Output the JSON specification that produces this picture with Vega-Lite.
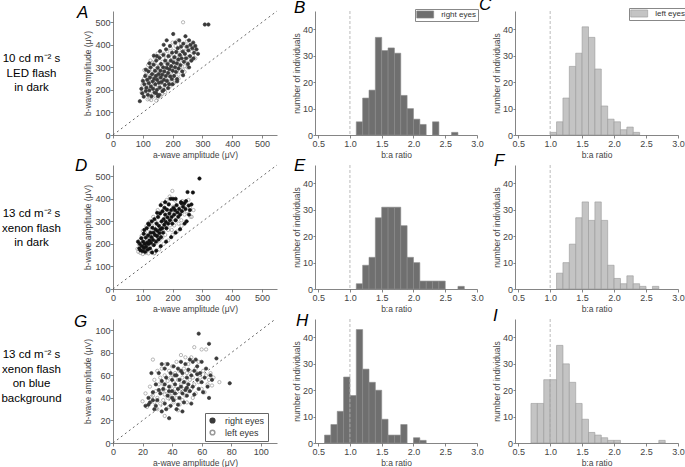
{
"$schema":"https://vega.github.io/schema/vega-lite/v6.json",
"padding":{"left":0,"top":-4,"right":0,"bottom":0},
"bounds":"flush",
"columns":4,
"spacing":{"row":30,"column":38},
"resolve":{"scale":{"fill":"independent","stroke":"independent"},"legend":{"fill":"independent","stroke":"independent"}},
"config":{
"font":"Liberation Sans",
"view":{"stroke":null},
"axis":{"grid":false,"domainColor":"#666","tickColor":"#666","labelColor":"#444","titleColor":"#444","labelFontSize":9,"titleFontSize":8.5,"titleFontWeight":"normal","tickSize":3,"labelPadding":1,"titlePadding":2,"domainWidth":0.8,"tickWidth":0.8,"labelOverlap":false,"labelFlush":false},
"title":{"fontSize":17,"fontStyle":"italic","fontWeight":"normal","anchor":"start","frame":"group","offset":0,"baseline":"alphabetic","color":"#000"}
},
"datasets":{
"sA":[
{"e":"L","a":96,"b":188},{"e":"L","a":99,"b":222},{"e":"L","a":102,"b":200},{"e":"L","a":104,"b":250},{"e":"L","a":107,"b":180},{"e":"L","a":109,"b":232},{"e":"L","a":111,"b":265},{"e":"L","a":113,"b":205},{"e":"L","a":116,"b":158},{"e":"L","a":118,"b":240},{"e":"L","a":120,"b":215},{"e":"L","a":121,"b":290},{"e":"L","a":123,"b":185},{"e":"L","a":125,"b":262},{"e":"L","a":127,"b":228},{"e":"L","a":128,"b":155},{"e":"L","a":130,"b":248},{"e":"L","a":132,"b":290},{"e":"L","a":134,"b":212},{"e":"L","a":135,"b":268},{"e":"L","a":137,"b":232},{"e":"L","a":139,"b":320},{"e":"L","a":140,"b":195},{"e":"L","a":142,"b":275},{"e":"L","a":143,"b":248},{"e":"L","a":145,"b":152},{"e":"L","a":146,"b":305},{"e":"L","a":148,"b":222},{"e":"L","a":149,"b":262},{"e":"L","a":151,"b":338},{"e":"L","a":152,"b":240},{"e":"L","a":154,"b":285},{"e":"L","a":155,"b":210},{"e":"L","a":157,"b":310},{"e":"L","a":158,"b":258},{"e":"L","a":160,"b":232},{"e":"L","a":161,"b":350},{"e":"L","a":163,"b":280},{"e":"L","a":164,"b":218},{"e":"L","a":166,"b":325},{"e":"L","a":167,"b":252},{"e":"L","a":169,"b":290},{"e":"L","a":170,"b":360},{"e":"L","a":172,"b":235},{"e":"L","a":173,"b":310},{"e":"L","a":175,"b":270},{"e":"L","a":176,"b":205},{"e":"L","a":178,"b":340},{"e":"L","a":179,"b":288},{"e":"L","a":181,"b":258},{"e":"L","a":182,"b":372},{"e":"L","a":184,"b":320},{"e":"L","a":185,"b":238},{"e":"L","a":187,"b":300},{"e":"L","a":188,"b":352},{"e":"L","a":190,"b":270},{"e":"L","a":191,"b":228},{"e":"L","a":193,"b":385},{"e":"L","a":194,"b":318},{"e":"L","a":196,"b":290},{"e":"L","a":197,"b":345},{"e":"L","a":199,"b":255},{"e":"L","a":200,"b":410},{"e":"L","a":202,"b":305},{"e":"L","a":204,"b":372},{"e":"L","a":205,"b":275},{"e":"L","a":207,"b":338},{"e":"L","a":208,"b":240},{"e":"L","a":210,"b":395},{"e":"L","a":212,"b":312},{"e":"L","a":213,"b":355},{"e":"L","a":215,"b":285},{"e":"L","a":217,"b":420},{"e":"L","a":219,"b":330},{"e":"L","a":220,"b":268},{"e":"L","a":222,"b":375},{"e":"L","a":224,"b":300},{"e":"L","a":226,"b":345},{"e":"L","a":228,"b":405},{"e":"L","a":230,"b":318},{"e":"L","a":232,"b":360},{"e":"L","a":234,"b":290},{"e":"L","a":235,"b":500},{"e":"L","a":237,"b":385},{"e":"L","a":239,"b":335},{"e":"L","a":241,"b":305},{"e":"L","a":243,"b":370},{"e":"L","a":246,"b":348},{"e":"L","a":248,"b":415},{"e":"L","a":250,"b":320},{"e":"L","a":253,"b":380},{"e":"L","a":256,"b":345},{"e":"L","a":259,"b":398},{"e":"L","a":262,"b":330},{"e":"L","a":265,"b":370},{"e":"L","a":268,"b":350},{"e":"L","a":272,"b":385},{"e":"L","a":276,"b":340},{"e":"L","a":105,"b":288},{"e":"L","a":118,"b":310},{"e":"L","a":126,"b":330},{"e":"L","a":140,"b":345},{"e":"L","a":150,"b":362},{"e":"L","a":132,"b":322},{"e":"L","a":112,"b":275},{"e":"L","a":150,"b":165},{"e":"L","a":165,"b":182},{"e":"L","a":175,"b":190},{"e":"L","a":190,"b":215},{"e":"L","a":205,"b":232},{"e":"L","a":220,"b":250},{"e":"L","a":240,"b":280},{"e":"L","a":250,"b":300},{"e":"L","a":160,"b":175},{"e":"L","a":135,"b":170},{"e":"L","a":122,"b":160},
{"e":"R","a":90,"b":150},{"e":"R","a":95,"b":205},{"e":"R","a":98,"b":185},{"e":"R","a":100,"b":240},{"e":"R","a":103,"b":170},{"e":"R","a":105,"b":225},{"e":"R","a":108,"b":262},{"e":"R","a":110,"b":195},{"e":"R","a":112,"b":210},{"e":"R","a":115,"b":245},{"e":"R","a":117,"b":178},{"e":"R","a":119,"b":282},{"e":"R","a":120,"b":230},{"e":"R","a":122,"b":198},{"e":"R","a":124,"b":255},{"e":"R","a":126,"b":300},{"e":"R","a":127,"b":215},{"e":"R","a":129,"b":172},{"e":"R","a":131,"b":270},{"e":"R","a":133,"b":238},{"e":"R","a":134,"b":205},{"e":"R","a":136,"b":312},{"e":"R","a":138,"b":250},{"e":"R","a":139,"b":188},{"e":"R","a":141,"b":285},{"e":"R","a":142,"b":225},{"e":"R","a":144,"b":262},{"e":"R","a":145,"b":330},{"e":"R","a":147,"b":200},{"e":"R","a":148,"b":245},{"e":"R","a":150,"b":298},{"e":"R","a":151,"b":172},{"e":"R","a":153,"b":270},{"e":"R","a":154,"b":232},{"e":"R","a":156,"b":342},{"e":"R","a":157,"b":210},{"e":"R","a":159,"b":285},{"e":"R","a":160,"b":255},{"e":"R","a":161,"b":315},{"e":"R","a":163,"b":235},{"e":"R","a":165,"b":268},{"e":"R","a":166,"b":195},{"e":"R","a":168,"b":300},{"e":"R","a":169,"b":355},{"e":"R","a":171,"b":245},{"e":"R","a":172,"b":282},{"e":"R","a":174,"b":222},{"e":"R","a":175,"b":330},{"e":"R","a":177,"b":262},{"e":"R","a":178,"b":380},{"e":"R","a":180,"b":298},{"e":"R","a":181,"b":240},{"e":"R","a":183,"b":315},{"e":"R","a":185,"b":275},{"e":"R","a":186,"b":350},{"e":"R","a":188,"b":225},{"e":"R","a":189,"b":292},{"e":"R","a":191,"b":395},{"e":"R","a":192,"b":260},{"e":"R","a":194,"b":330},{"e":"R","a":195,"b":305},{"e":"R","a":197,"b":248},{"e":"R","a":198,"b":365},{"e":"R","a":200,"b":285},{"e":"R","a":202,"b":448},{"e":"R","a":203,"b":322},{"e":"R","a":205,"b":262},{"e":"R","a":206,"b":345},{"e":"R","a":208,"b":300},{"e":"R","a":209,"b":410},{"e":"R","a":211,"b":280},{"e":"R","a":212,"b":368},{"e":"R","a":214,"b":318},{"e":"R","a":215,"b":248},{"e":"R","a":217,"b":385},{"e":"R","a":219,"b":335},{"e":"R","a":220,"b":295},{"e":"R","a":222,"b":420},{"e":"R","a":224,"b":355},{"e":"R","a":226,"b":310},{"e":"R","a":228,"b":392},{"e":"R","a":230,"b":340},{"e":"R","a":232,"b":282},{"e":"R","a":234,"b":370},{"e":"R","a":236,"b":405},{"e":"R","a":238,"b":325},{"e":"R","a":241,"b":360},{"e":"R","a":243,"b":438},{"e":"R","a":245,"b":340},{"e":"R","a":248,"b":392},{"e":"R","a":251,"b":315},{"e":"R","a":253,"b":375},{"e":"R","a":255,"b":420},{"e":"R","a":258,"b":350},{"e":"R","a":260,"b":400},{"e":"R","a":263,"b":330},{"e":"R","a":266,"b":385},{"e":"R","a":269,"b":410},{"e":"R","a":272,"b":365},{"e":"R","a":276,"b":395},{"e":"R","a":280,"b":380},{"e":"R","a":285,"b":360},{"e":"R","a":308,"b":490},{"e":"R","a":320,"b":490},{"e":"R","a":110,"b":290},{"e":"R","a":122,"b":318},{"e":"R","a":137,"b":352},{"e":"R","a":147,"b":350},{"e":"R","a":158,"b":372},{"e":"R","a":170,"b":400},{"e":"R","a":180,"b":420},{"e":"R","a":155,"b":178},{"e":"R","a":170,"b":200},{"e":"R","a":185,"b":208},{"e":"R","a":200,"b":225},{"e":"R","a":215,"b":238},{"e":"R","a":235,"b":265},{"e":"R","a":255,"b":300},{"e":"R","a":270,"b":340},{"e":"R","a":145,"b":185}
],
"sD":[
{"e":"L","a":82,"b":178},{"e":"L","a":85,"b":165},{"e":"L","a":87,"b":198},{"e":"L","a":90,"b":215},{"e":"L","a":92,"b":160},{"e":"L","a":94,"b":182},{"e":"L","a":96,"b":235},{"e":"L","a":98,"b":200},{"e":"L","a":100,"b":155},{"e":"L","a":102,"b":175},{"e":"L","a":104,"b":222},{"e":"L","a":106,"b":190},{"e":"L","a":107,"b":250},{"e":"L","a":109,"b":160},{"e":"L","a":111,"b":208},{"e":"L","a":113,"b":180},{"e":"L","a":115,"b":235},{"e":"L","a":117,"b":198},{"e":"L","a":119,"b":158},{"e":"L","a":120,"b":265},{"e":"L","a":122,"b":222},{"e":"L","a":124,"b":188},{"e":"L","a":126,"b":245},{"e":"L","a":128,"b":170},{"e":"L","a":130,"b":212},{"e":"L","a":131,"b":282},{"e":"L","a":133,"b":238},{"e":"L","a":135,"b":195},{"e":"L","a":137,"b":260},{"e":"L","a":138,"b":158},{"e":"L","a":140,"b":225},{"e":"L","a":142,"b":300},{"e":"L","a":144,"b":248},{"e":"L","a":146,"b":205},{"e":"L","a":148,"b":275},{"e":"L","a":150,"b":232},{"e":"L","a":152,"b":318},{"e":"L","a":154,"b":258},{"e":"L","a":156,"b":215},{"e":"L","a":157,"b":290},{"e":"L","a":159,"b":245},{"e":"L","a":161,"b":340},{"e":"L","a":163,"b":268},{"e":"L","a":165,"b":228},{"e":"L","a":167,"b":305},{"e":"L","a":169,"b":255},{"e":"L","a":171,"b":360},{"e":"L","a":173,"b":285},{"e":"L","a":175,"b":240},{"e":"L","a":177,"b":325},{"e":"L","a":179,"b":270},{"e":"L","a":181,"b":350},{"e":"L","a":183,"b":300},{"e":"L","a":185,"b":262},{"e":"L","a":187,"b":378},{"e":"L","a":189,"b":318},{"e":"L","a":191,"b":282},{"e":"L","a":193,"b":345},{"e":"L","a":195,"b":300},{"e":"L","a":197,"b":262},{"e":"L","a":199,"b":435},{"e":"L","a":201,"b":365},{"e":"L","a":203,"b":315},{"e":"L","a":205,"b":282},{"e":"L","a":207,"b":340},{"e":"L","a":209,"b":392},{"e":"L","a":211,"b":305},{"e":"L","a":214,"b":358},{"e":"L","a":217,"b":330},{"e":"L","a":220,"b":290},{"e":"L","a":223,"b":372},{"e":"L","a":226,"b":340},{"e":"L","a":229,"b":305},{"e":"L","a":232,"b":390},{"e":"L","a":236,"b":350},{"e":"L","a":240,"b":330},{"e":"L","a":244,"b":375},{"e":"L","a":248,"b":345},{"e":"L","a":253,"b":395},{"e":"L","a":258,"b":360},{"e":"L","a":264,"b":320},{"e":"L","a":270,"b":350},{"e":"L","a":100,"b":258},{"e":"L","a":112,"b":278},{"e":"L","a":125,"b":300},{"e":"L","a":135,"b":320},{"e":"L","a":150,"b":350},{"e":"L","a":165,"b":380},{"e":"L","a":180,"b":395},{"e":"L","a":190,"b":410},{"e":"L","a":140,"b":160},{"e":"L","a":155,"b":175},{"e":"L","a":170,"b":200},{"e":"L","a":185,"b":215},{"e":"L","a":200,"b":240},{"e":"L","a":215,"b":255},{"e":"L","a":230,"b":280},{"e":"L","a":245,"b":300},{"e":"L","a":260,"b":320},
{"e":"R","a":84,"b":210},{"e":"R","a":88,"b":180},{"e":"R","a":90,"b":200},{"e":"R","a":92,"b":172},{"e":"R","a":95,"b":225},{"e":"R","a":97,"b":190},{"e":"R","a":99,"b":168},{"e":"R","a":101,"b":210},{"e":"R","a":103,"b":245},{"e":"R","a":104,"b":182},{"e":"R","a":106,"b":200},{"e":"R","a":108,"b":165},{"e":"R","a":110,"b":228},{"e":"R","a":111,"b":188},{"e":"R","a":113,"b":270},{"e":"R","a":114,"b":205},{"e":"R","a":116,"b":175},{"e":"R","a":118,"b":238},{"e":"R","a":119,"b":200},{"e":"R","a":121,"b":285},{"e":"R","a":122,"b":215},{"e":"R","a":124,"b":180},{"e":"R","a":126,"b":250},{"e":"R","a":127,"b":205},{"e":"R","a":129,"b":230},{"e":"R","a":131,"b":162},{"e":"R","a":132,"b":272},{"e":"R","a":134,"b":218},{"e":"R","a":136,"b":250},{"e":"R","a":137,"b":195},{"e":"R","a":139,"b":310},{"e":"R","a":141,"b":240},{"e":"R","a":142,"b":265},{"e":"R","a":144,"b":210},{"e":"R","a":146,"b":290},{"e":"R","a":148,"b":235},{"e":"R","a":149,"b":258},{"e":"R","a":151,"b":320},{"e":"R","a":153,"b":220},{"e":"R","a":154,"b":280},{"e":"R","a":156,"b":248},{"e":"R","a":158,"b":335},{"e":"R","a":159,"b":265},{"e":"R","a":161,"b":230},{"e":"R","a":163,"b":300},{"e":"R","a":165,"b":270},{"e":"R","a":166,"b":345},{"e":"R","a":168,"b":250},{"e":"R","a":170,"b":310},{"e":"R","a":172,"b":285},{"e":"R","a":173,"b":360},{"e":"R","a":175,"b":330},{"e":"R","a":177,"b":298},{"e":"R","a":179,"b":270},{"e":"R","a":181,"b":352},{"e":"R","a":183,"b":318},{"e":"R","a":185,"b":290},{"e":"R","a":187,"b":375},{"e":"R","a":189,"b":335},{"e":"R","a":191,"b":305},{"e":"R","a":193,"b":400},{"e":"R","a":195,"b":350},{"e":"R","a":197,"b":320},{"e":"R","a":199,"b":290},{"e":"R","a":201,"b":400},{"e":"R","a":203,"b":360},{"e":"R","a":205,"b":330},{"e":"R","a":208,"b":350},{"e":"R","a":210,"b":305},{"e":"R","a":213,"b":372},{"e":"R","a":216,"b":340},{"e":"R","a":219,"b":320},{"e":"R","a":222,"b":355},{"e":"R","a":225,"b":330},{"e":"R","a":228,"b":385},{"e":"R","a":231,"b":345},{"e":"R","a":235,"b":365},{"e":"R","a":239,"b":380},{"e":"R","a":243,"b":355},{"e":"R","a":247,"b":300},{"e":"R","a":250,"b":430},{"e":"R","a":254,"b":370},{"e":"R","a":258,"b":350},{"e":"R","a":263,"b":375},{"e":"R","a":268,"b":428},{"e":"R","a":290,"b":490},{"e":"R","a":245,"b":390},{"e":"R","a":105,"b":262},{"e":"R","a":118,"b":290},{"e":"R","a":130,"b":300},{"e":"R","a":148,"b":338},{"e":"R","a":160,"b":372},{"e":"R","a":175,"b":385},{"e":"R","a":210,"b":400},{"e":"R","a":230,"b":380},{"e":"R","a":145,"b":170},{"e":"R","a":160,"b":190},{"e":"R","a":178,"b":210},{"e":"R","a":195,"b":230},{"e":"R","a":210,"b":250},{"e":"R","a":225,"b":265},{"e":"R","a":240,"b":290},{"e":"R","a":255,"b":330}
],
"sG":[
{"e":"L","a":20,"b":37},{"e":"L","a":22,"b":44},{"e":"L","a":23,"b":32},{"e":"L","a":25,"b":50},{"e":"L","a":26,"b":41},{"e":"L","a":27,"b":74},{"e":"L","a":28,"b":36},{"e":"L","a":28,"b":56},{"e":"L","a":29,"b":46},{"e":"L","a":30,"b":40},{"e":"L","a":30,"b":64},{"e":"L","a":31,"b":52},{"e":"L","a":32,"b":35},{"e":"L","a":32,"b":58},{"e":"L","a":33,"b":45},{"e":"L","a":33,"b":66},{"e":"L","a":34,"b":38},{"e":"L","a":34,"b":52},{"e":"L","a":35,"b":24},{"e":"L","a":35,"b":60},{"e":"L","a":36,"b":46},{"e":"L","a":36,"b":70},{"e":"L","a":37,"b":40},{"e":"L","a":37,"b":55},{"e":"L","a":38,"b":64},{"e":"L","a":38,"b":32},{"e":"L","a":39,"b":50},{"e":"L","a":39,"b":58},{"e":"L","a":40,"b":44},{"e":"L","a":40,"b":68},{"e":"L","a":41,"b":54},{"e":"L","a":41,"b":36},{"e":"L","a":42,"b":62},{"e":"L","a":42,"b":48},{"e":"L","a":43,"b":72},{"e":"L","a":43,"b":40},{"e":"L","a":44,"b":56},{"e":"L","a":44,"b":29},{"e":"L","a":45,"b":64},{"e":"L","a":45,"b":46},{"e":"L","a":46,"b":52},{"e":"L","a":46,"b":78},{"e":"L","a":47,"b":58},{"e":"L","a":47,"b":38},{"e":"L","a":48,"b":66},{"e":"L","a":48,"b":48},{"e":"L","a":49,"b":54},{"e":"L","a":49,"b":76},{"e":"L","a":50,"b":62},{"e":"L","a":50,"b":36},{"e":"L","a":51,"b":46},{"e":"L","a":51,"b":70},{"e":"L","a":52,"b":56},{"e":"L","a":52,"b":64},{"e":"L","a":53,"b":48},{"e":"L","a":53,"b":76},{"e":"L","a":54,"b":58},{"e":"L","a":55,"b":85},{"e":"L","a":55,"b":52},{"e":"L","a":56,"b":66},{"e":"L","a":56,"b":44},{"e":"L","a":57,"b":62},{"e":"L","a":58,"b":72},{"e":"L","a":58,"b":54},{"e":"L","a":59,"b":58},{"e":"L","a":60,"b":83},{"e":"L","a":60,"b":48},{"e":"L","a":61,"b":64},{"e":"L","a":62,"b":45},{"e":"L","a":63,"b":83},{"e":"L","a":63,"b":60},{"e":"L","a":64,"b":52},{"e":"L","a":65,"b":56},{"e":"L","a":66,"b":62},{"e":"L","a":67,"b":51},{"e":"L","a":68,"b":58},{"e":"L","a":72,"b":54},{"e":"L","a":45,"b":34},{"e":"L","a":38,"b":42},{"e":"L","a":41,"b":60},{"e":"L","a":30,"b":30},{"e":"L","a":27,"b":42},{"e":"L","a":49,"b":42},{"e":"L","a":54,"b":40},{"e":"L","a":35,"b":43},
{"e":"R","a":22,"b":33},{"e":"R","a":24,"b":40},{"e":"R","a":25,"b":36},{"e":"R","a":27,"b":45},{"e":"R","a":28,"b":30},{"e":"R","a":29,"b":52},{"e":"R","a":30,"b":38},{"e":"R","a":31,"b":62},{"e":"R","a":32,"b":44},{"e":"R","a":33,"b":28},{"e":"R","a":33,"b":55},{"e":"R","a":34,"b":48},{"e":"R","a":35,"b":66},{"e":"R","a":35,"b":35},{"e":"R","a":36,"b":58},{"e":"R","a":37,"b":42},{"e":"R","a":37,"b":70},{"e":"R","a":38,"b":22},{"e":"R","a":38,"b":50},{"e":"R","a":39,"b":62},{"e":"R","a":39,"b":33},{"e":"R","a":40,"b":46},{"e":"R","a":40,"b":56},{"e":"R","a":41,"b":38},{"e":"R","a":41,"b":68},{"e":"R","a":42,"b":52},{"e":"R","a":42,"b":44},{"e":"R","a":43,"b":60},{"e":"R","a":43,"b":30},{"e":"R","a":44,"b":48},{"e":"R","a":44,"b":66},{"e":"R","a":45,"b":40},{"e":"R","a":45,"b":56},{"e":"R","a":46,"b":72},{"e":"R","a":46,"b":50},{"e":"R","a":47,"b":44},{"e":"R","a":47,"b":62},{"e":"R","a":48,"b":36},{"e":"R","a":48,"b":54},{"e":"R","a":49,"b":70},{"e":"R","a":49,"b":47},{"e":"R","a":50,"b":58},{"e":"R","a":50,"b":42},{"e":"R","a":51,"b":65},{"e":"R","a":51,"b":52},{"e":"R","a":52,"b":74},{"e":"R","a":52,"b":46},{"e":"R","a":53,"b":60},{"e":"R","a":54,"b":72},{"e":"R","a":54,"b":50},{"e":"R","a":55,"b":64},{"e":"R","a":55,"b":43},{"e":"R","a":56,"b":74},{"e":"R","a":57,"b":56},{"e":"R","a":57,"b":68},{"e":"R","a":58,"b":97},{"e":"R","a":58,"b":48},{"e":"R","a":59,"b":62},{"e":"R","a":60,"b":72},{"e":"R","a":60,"b":54},{"e":"R","a":61,"b":45},{"e":"R","a":62,"b":58},{"e":"R","a":63,"b":66},{"e":"R","a":64,"b":50},{"e":"R","a":65,"b":88},{"e":"R","a":65,"b":40},{"e":"R","a":66,"b":60},{"e":"R","a":67,"b":56},{"e":"R","a":70,"b":75},{"e":"R","a":79,"b":53},{"e":"R","a":33,"b":70},{"e":"R","a":26,"b":62},{"e":"R","a":29,"b":33},{"e":"R","a":36,"b":30},{"e":"R","a":44,"b":34},{"e":"R","a":47,"b":28},{"e":"R","a":53,"b":35},{"e":"R","a":31,"b":47},{"e":"R","a":27,"b":38},{"e":"R","a":24,"b":34},{"e":"R","a":46,"b":64},{"e":"R","a":42,"b":60},{"e":"R","a":38,"b":46},{"e":"R","a":50,"b":49},{"e":"R","a":35,"b":52},{"e":"R","a":40,"b":40},{"e":"R","a":57,"b":61}
],
"hB":[{"x0":1.1,"x1":1.2,"n":5,"eye":"right eyes"},{"x0":1.2,"x1":1.3,"n":14,"eye":"right eyes"},{"x0":1.3,"x1":1.4,"n":17,"eye":"right eyes"},{"x0":1.4,"x1":1.5,"n":37,"eye":"right eyes"},{"x0":1.5,"x1":1.6,"n":32,"eye":"right eyes"},{"x0":1.6,"x1":1.7,"n":33,"eye":"right eyes"},{"x0":1.7,"x1":1.8,"n":31,"eye":"right eyes"},{"x0":1.8,"x1":1.9,"n":15,"eye":"right eyes"},{"x0":1.9,"x1":2.0,"n":10,"eye":"right eyes"},{"x0":2.0,"x1":2.1,"n":6,"eye":"right eyes"},{"x0":2.1,"x1":2.2,"n":4,"eye":"right eyes"},{"x0":2.3,"x1":2.4,"n":5,"eye":"right eyes"},{"x0":2.6,"x1":2.7,"n":1,"eye":"right eyes"}],
"hC":[{"x0":1.0,"x1":1.1,"n":1,"eye":"left eyes"},{"x0":1.1,"x1":1.2,"n":5,"eye":"left eyes"},{"x0":1.2,"x1":1.3,"n":14,"eye":"left eyes"},{"x0":1.3,"x1":1.4,"n":26,"eye":"left eyes"},{"x0":1.4,"x1":1.5,"n":31,"eye":"left eyes"},{"x0":1.5,"x1":1.6,"n":41,"eye":"left eyes"},{"x0":1.6,"x1":1.7,"n":37,"eye":"left eyes"},{"x0":1.7,"x1":1.8,"n":25,"eye":"left eyes"},{"x0":1.8,"x1":1.9,"n":11,"eye":"left eyes"},{"x0":1.9,"x1":2.0,"n":6,"eye":"left eyes"},{"x0":2.0,"x1":2.1,"n":5,"eye":"left eyes"},{"x0":2.1,"x1":2.2,"n":2,"eye":"left eyes"},{"x0":2.2,"x1":2.3,"n":3,"eye":"left eyes"},{"x0":2.3,"x1":2.4,"n":1,"eye":"left eyes"}],
"hE":[{"x0":1.1,"x1":1.2,"n":2,"eye":"right eyes"},{"x0":1.2,"x1":1.3,"n":9,"eye":"right eyes"},{"x0":1.3,"x1":1.4,"n":12,"eye":"right eyes"},{"x0":1.4,"x1":1.5,"n":27,"eye":"right eyes"},{"x0":1.5,"x1":1.6,"n":31,"eye":"right eyes"},{"x0":1.6,"x1":1.7,"n":31,"eye":"right eyes"},{"x0":1.7,"x1":1.8,"n":31,"eye":"right eyes"},{"x0":1.8,"x1":1.9,"n":24,"eye":"right eyes"},{"x0":1.9,"x1":2.0,"n":12,"eye":"right eyes"},{"x0":2.0,"x1":2.1,"n":10,"eye":"right eyes"},{"x0":2.1,"x1":2.2,"n":3,"eye":"right eyes"},{"x0":2.2,"x1":2.3,"n":3,"eye":"right eyes"},{"x0":2.3,"x1":2.4,"n":3,"eye":"right eyes"},{"x0":2.4,"x1":2.5,"n":3,"eye":"right eyes"},{"x0":2.7,"x1":2.8,"n":1,"eye":"right eyes"}],
"hF":[{"x0":1.1,"x1":1.2,"n":6,"eye":"left eyes"},{"x0":1.2,"x1":1.3,"n":10,"eye":"left eyes"},{"x0":1.3,"x1":1.4,"n":17,"eye":"left eyes"},{"x0":1.4,"x1":1.5,"n":27,"eye":"left eyes"},{"x0":1.5,"x1":1.6,"n":33,"eye":"left eyes"},{"x0":1.6,"x1":1.7,"n":26,"eye":"left eyes"},{"x0":1.7,"x1":1.8,"n":33,"eye":"left eyes"},{"x0":1.8,"x1":1.9,"n":26,"eye":"left eyes"},{"x0":1.9,"x1":2.0,"n":9,"eye":"left eyes"},{"x0":2.0,"x1":2.1,"n":4,"eye":"left eyes"},{"x0":2.1,"x1":2.2,"n":2,"eye":"left eyes"},{"x0":2.2,"x1":2.3,"n":5,"eye":"left eyes"},{"x0":2.3,"x1":2.4,"n":2,"eye":"left eyes"},{"x0":2.4,"x1":2.5,"n":1,"eye":"left eyes"},{"x0":2.6,"x1":2.7,"n":1,"eye":"left eyes"}],
"hH":[{"x0":0.6,"x1":0.7,"n":3,"eye":"right eyes"},{"x0":0.7,"x1":0.8,"n":7,"eye":"right eyes"},{"x0":0.8,"x1":0.9,"n":12,"eye":"right eyes"},{"x0":0.9,"x1":1.0,"n":25,"eye":"right eyes"},{"x0":1.0,"x1":1.1,"n":18,"eye":"right eyes"},{"x0":1.1,"x1":1.2,"n":43,"eye":"right eyes"},{"x0":1.2,"x1":1.3,"n":28,"eye":"right eyes"},{"x0":1.3,"x1":1.4,"n":23,"eye":"right eyes"},{"x0":1.4,"x1":1.5,"n":20,"eye":"right eyes"},{"x0":1.5,"x1":1.6,"n":9,"eye":"right eyes"},{"x0":1.6,"x1":1.7,"n":3,"eye":"right eyes"},{"x0":1.7,"x1":1.8,"n":3,"eye":"right eyes"},{"x0":1.8,"x1":1.9,"n":7,"eye":"right eyes"},{"x0":2.0,"x1":2.1,"n":2,"eye":"right eyes"},{"x0":2.1,"x1":2.2,"n":1,"eye":"right eyes"}],
"hI":[{"x0":0.7,"x1":0.8,"n":15,"eye":"left eyes"},{"x0":0.8,"x1":0.9,"n":15,"eye":"left eyes"},{"x0":0.9,"x1":1.0,"n":24,"eye":"left eyes"},{"x0":1.0,"x1":1.1,"n":24,"eye":"left eyes"},{"x0":1.1,"x1":1.2,"n":37,"eye":"left eyes"},{"x0":1.2,"x1":1.3,"n":30,"eye":"left eyes"},{"x0":1.3,"x1":1.4,"n":23,"eye":"left eyes"},{"x0":1.4,"x1":1.5,"n":15,"eye":"left eyes"},{"x0":1.5,"x1":1.6,"n":9,"eye":"left eyes"},{"x0":1.6,"x1":1.7,"n":4,"eye":"left eyes"},{"x0":1.7,"x1":1.8,"n":3,"eye":"left eyes"},{"x0":1.8,"x1":1.9,"n":2,"eye":"left eyes"},{"x0":1.9,"x1":2.0,"n":1,"eye":"left eyes"},{"x0":2.0,"x1":2.1,"n":1,"eye":"left eyes"},{"x0":2.7,"x1":2.8,"n":1,"eye":"left eyes"}]
},
"concat":[
{"width":75,"height":124,"data":{"values":[{"t":"10 cd m⁻² s\nLED flash\nin dark"}]},"mark":{"type":"text","align":"center","baseline":"middle","dx":-6,"dy":-14,"fontSize":11.5,"lineBreak":"\n","lineHeight":14.5,"color":"#000"},"encoding":{"text":{"field":"t"}}},
{"width":164,"height":124,"title":{"text":"A","dx":-36,"dy":16.5},
"layer":[
{"data":{"values":[{"a":0,"b":0},{"a":550,"b":550}]},"mark":{"type":"line","strokeDash":[2,3],"color":"#555","strokeWidth":0.9},"encoding":{"x":{"field":"a","type":"quantitative","title":"a-wave amplitude (μV)","scale":{"domain":[0,550],"nice":false},"axis":{"values":[0,100,200,300,400,500],"labelOverlap":false,"tickCount":6}},"y":{"field":"b","type":"quantitative","title":"b-wave amplitude (μV)","scale":{"domain":[0,550],"nice":false},"axis":{"values":[0,100,200,300,400,500],"labelPadding":0,"labelOverlap":false,"tickCount":6}}}},
{"data":{"name":"sA"},"mark":{"type":"point","shape":"circle","size":11,"strokeWidth":0.7,"opacity":1},
"encoding":{"x":{"field":"a","type":"quantitative","title":"a-wave amplitude (μV)","scale":{"domain":[0,550],"nice":false},"axis":{"values":[0,100,200,300,400,500],"labelOverlap":false,"tickCount":6}},
"y":{"field":"b","type":"quantitative","title":"b-wave amplitude (μV)","scale":{"domain":[0,550],"nice":false},"axis":{"values":[0,100,200,300,400,500],"labelPadding":0,"labelOverlap":false,"tickCount":6}},
"fill":{"field":"e","type":"nominal","scale":{"domain":["R","L"],"range":["#3a3a3a","rgba(255,255,255,0)"]},"legend":null},
"stroke":{"field":"e","type":"nominal","scale":{"domain":["R","L"],"range":["#3a3a3a","#999999"]},"legend":null}}}
]},
{"width":162,"height":124,"title":{"text":"B","dx":-21,"dy":12},
"layer":[
{"data":{"name":"hB"},"mark":{"type":"bar","stroke":"#8a8a8a","strokeWidth":0.6},
"encoding":{"x":{"field":"x0","type":"quantitative","title":"b:a ratio","scale":{"domain":[0.45,3.0],"nice":false,"zero":false},"axis":{"values":[0.5,1,1.5,2,2.5,3],"format":".1f","labelOverlap":false,"tickCount":6}},"x2":{"field":"x1"},
"y":{"field":"n","type":"quantitative","title":"number of individuals","scale":{"domain":[0,47],"nice":false},"axis":{"values":[0,10,20,30,40],"tickSize":2,"labelPadding":0.5,"titlePadding":1,"labelOverlap":false}},"y2":{"datum":0},
"fill":{"field":"eye","type":"nominal","scale":{"range":["#6f6f6f"]},"legend":{"orient":"none","legendX":100,"legendY":-2,"title":null,"symbolType":"M-2.4,-1H2.4V1H-2.4Z","symbolSize":50,"symbolOffset":4.7,"symbolStrokeColor":"#888","symbolStrokeWidth":0.6,"strokeColor":"#888","padding":1.5,"labelFontSize":8,"labelColor":"#333","fillColor":"white","labelOffset":12}}}},
{"data":{"values":[{"r":1}]},"mark":{"type":"rule","strokeDash":[3,2],"color":"#aaa","strokeWidth":0.8},"encoding":{"x":{"field":"r","type":"quantitative","title":"b:a ratio","scale":{"domain":[0.45,3.0],"nice":false,"zero":false},"axis":{"values":[0.5,1,1.5,2,2.5,3],"format":".1f","labelOverlap":false,"tickCount":6}}}}
]},
{"width":163,"height":124,"title":{"text":"C","dx":-36,"dy":10.5},
"layer":[
{"data":{"name":"hC"},"mark":{"type":"bar","stroke":"#999999","strokeWidth":0.6},
"encoding":{"x":{"field":"x0","type":"quantitative","title":"b:a ratio","scale":{"domain":[0.45,3.0],"nice":false,"zero":false},"axis":{"values":[0.5,1,1.5,2,2.5,3],"format":".1f","labelOverlap":false,"tickCount":6}},"x2":{"field":"x1"},
"y":{"field":"n","type":"quantitative","title":"number of individuals","scale":{"domain":[0,47],"nice":false},"axis":{"values":[0,10,20,30,40],"tickSize":2,"labelPadding":0.5,"titlePadding":1,"labelOverlap":false}},"y2":{"datum":0},
"fill":{"field":"eye","type":"nominal","scale":{"range":["#c4c4c4"]},"legend":{"orient":"none","legendX":114,"legendY":-3,"title":null,"symbolType":"M-2.4,-1H2.4V1H-2.4Z","symbolSize":50,"symbolOffset":4.7,"symbolStrokeColor":"#999","symbolStrokeWidth":0.6,"strokeColor":"#888","padding":1.5,"labelFontSize":8,"labelColor":"#333","fillColor":"white","labelOffset":12}}}},
{"data":{"values":[{"r":1}]},"mark":{"type":"rule","strokeDash":[3,2],"color":"#aaa","strokeWidth":0.8},"encoding":{"x":{"field":"r","type":"quantitative","title":"b:a ratio","scale":{"domain":[0.45,3.0],"nice":false,"zero":false},"axis":{"values":[0.5,1,1.5,2,2.5,3],"format":".1f","labelOverlap":false,"tickCount":6}}}}
]},
{"width":75,"height":124,"data":{"values":[{"t":"13 cd m⁻² s\nxenon flash\nin dark"}]},"mark":{"type":"text","align":"center","baseline":"middle","dx":-6,"dy":-13,"fontSize":11.5,"lineBreak":"\n","lineHeight":14.5,"color":"#000"},"encoding":{"text":{"field":"t"}}},
{"width":164,"height":124,"title":{"text":"D","dx":-38,"dy":16},
"layer":[
{"data":{"values":[{"a":0,"b":0},{"a":550,"b":550}]},"mark":{"type":"line","strokeDash":[2,3],"color":"#555","strokeWidth":0.9},"encoding":{"x":{"field":"a","type":"quantitative","title":"a-wave amplitude (μV)","scale":{"domain":[0,550],"nice":false},"axis":{"values":[0,100,200,300,400,500],"labelOverlap":false,"tickCount":6}},"y":{"field":"b","type":"quantitative","title":"b-wave amplitude (μV)","scale":{"domain":[0,550],"nice":false},"axis":{"values":[0,100,200,300,400,500],"labelPadding":0,"labelOverlap":false,"tickCount":6}}}},
{"data":{"name":"sD"},"mark":{"type":"point","shape":"circle","size":11,"strokeWidth":0.7,"opacity":1},
"encoding":{"x":{"field":"a","type":"quantitative","title":"a-wave amplitude (μV)","scale":{"domain":[0,550],"nice":false},"axis":{"values":[0,100,200,300,400,500],"labelOverlap":false,"tickCount":6}},
"y":{"field":"b","type":"quantitative","title":"b-wave amplitude (μV)","scale":{"domain":[0,550],"nice":false},"axis":{"values":[0,100,200,300,400,500],"labelPadding":0,"labelOverlap":false,"tickCount":6}},
"fill":{"field":"e","type":"nominal","scale":{"domain":["R","L"],"range":["#111111","rgba(255,255,255,0)"]},"legend":null},
"stroke":{"field":"e","type":"nominal","scale":{"domain":["R","L"],"range":["#111111","#999999"]},"legend":null}}}
]},
{"width":162,"height":124,"title":{"text":"E","dx":-21,"dy":14},
"layer":[
{"data":{"name":"hE"},"mark":{"type":"bar","stroke":"#8a8a8a","strokeWidth":0.6},
"encoding":{"x":{"field":"x0","type":"quantitative","title":"b:a ratio","scale":{"domain":[0.45,3.0],"nice":false,"zero":false},"axis":{"values":[0.5,1,1.5,2,2.5,3],"format":".1f","labelOverlap":false,"tickCount":6}},"x2":{"field":"x1"},
"y":{"field":"n","type":"quantitative","title":"number of individuals","scale":{"domain":[0,47],"nice":false},"axis":{"values":[0,10,20,30,40],"tickSize":2,"labelPadding":0.5,"titlePadding":1,"labelOverlap":false}},"y2":{"datum":0},
"fill":{"field":"eye","type":"nominal","scale":{"range":["#6f6f6f"]},"legend":null}}},
{"data":{"values":[{"r":1}]},"mark":{"type":"rule","strokeDash":[3,2],"color":"#aaa","strokeWidth":0.8},"encoding":{"x":{"field":"r","type":"quantitative","title":"b:a ratio","scale":{"domain":[0.45,3.0],"nice":false,"zero":false},"axis":{"values":[0.5,1,1.5,2,2.5,3],"format":".1f","labelOverlap":false,"tickCount":6}}}}
]},
{"width":163,"height":124,"title":{"text":"F","dx":-21,"dy":9.5},
"layer":[
{"data":{"name":"hF"},"mark":{"type":"bar","stroke":"#999999","strokeWidth":0.6},
"encoding":{"x":{"field":"x0","type":"quantitative","title":"b:a ratio","scale":{"domain":[0.45,3.0],"nice":false,"zero":false},"axis":{"values":[0.5,1,1.5,2,2.5,3],"format":".1f","labelOverlap":false,"tickCount":6}},"x2":{"field":"x1"},
"y":{"field":"n","type":"quantitative","title":"number of individuals","scale":{"domain":[0,47],"nice":false},"axis":{"values":[0,10,20,30,40],"tickSize":2,"labelPadding":0.5,"titlePadding":1,"labelOverlap":false}},"y2":{"datum":0},
"fill":{"field":"eye","type":"nominal","scale":{"range":["#c4c4c4"]},"legend":null}}},
{"data":{"values":[{"r":1}]},"mark":{"type":"rule","strokeDash":[3,2],"color":"#aaa","strokeWidth":0.8},"encoding":{"x":{"field":"r","type":"quantitative","title":"b:a ratio","scale":{"domain":[0.45,3.0],"nice":false,"zero":false},"axis":{"values":[0.5,1,1.5,2,2.5,3],"format":".1f","labelOverlap":false,"tickCount":6}}}}
]},
{"width":75,"height":124,"data":{"values":[{"t":"13 cd m⁻² s\nxenon flash\non blue\nbackground"}]},"mark":{"type":"text","align":"center","baseline":"middle","dx":-6,"dy":-26,"fontSize":11.5,"lineBreak":"\n","lineHeight":14.5,"color":"#000"},"encoding":{"text":{"field":"t"}}},
{"width":164,"height":124,"title":{"text":"G","dx":-39,"dy":17.3},
"layer":[
{"data":{"values":[{"a":0,"b":0},{"a":110,"b":110}]},"mark":{"type":"line","strokeDash":[2,3],"color":"#555","strokeWidth":0.9},"encoding":{"x":{"field":"a","type":"quantitative","title":"a-wave amplitude (μV)","scale":{"domain":[0,111],"nice":false},"axis":{"values":[0,20,40,60,80,100],"labelOverlap":false,"tickCount":6}},"y":{"field":"b","type":"quantitative","title":"b-wave amplitude (μV)","scale":{"domain":[0,110],"nice":false},"axis":{"values":[0,20,40,60,80,100],"labelPadding":0,"labelOverlap":false,"tickCount":6}}}},
{"data":{"name":"sG"},"mark":{"type":"point","shape":"circle","size":11,"strokeWidth":0.7,"opacity":1},
"encoding":{"x":{"field":"a","type":"quantitative","title":"a-wave amplitude (μV)","scale":{"domain":[0,111],"nice":false},"axis":{"values":[0,20,40,60,80,100],"labelOverlap":false,"tickCount":6}},
"y":{"field":"b","type":"quantitative","title":"b-wave amplitude (μV)","scale":{"domain":[0,110],"nice":false},"axis":{"values":[0,20,40,60,80,100],"labelPadding":0,"labelOverlap":false,"tickCount":6}},
"fill":{"field":"e","type":"nominal","scale":{"domain":["R","L"],"range":["#3a3a3a","rgba(255,255,255,0)"]},"legend":{"orient":"none","legendX":92,"legendY":94,"title":null,"labelExpr":"datum.label == 'R' ? 'right eyes' : 'left eyes'","strokeColor":"#666","padding":3,"labelFontSize":9,"labelColor":"#333","symbolSize":22,"rowPadding":1,"fillColor":"white","labelOffset":8}},
"stroke":{"field":"e","type":"nominal","scale":{"domain":["R","L"],"range":["#3a3a3a","#999999"]},"legend":{"orient":"none","legendX":92,"legendY":94,"title":null,"labelExpr":"datum.label == 'R' ? 'right eyes' : 'left eyes'","strokeColor":"#666","padding":3,"labelFontSize":9,"labelColor":"#333","symbolSize":22,"rowPadding":1,"fillColor":"white","labelOffset":8}}}}
]},
{"width":162,"height":124,"title":{"text":"H","dx":-19,"dy":15.5},
"layer":[
{"data":{"name":"hH"},"mark":{"type":"bar","stroke":"#8a8a8a","strokeWidth":0.6},
"encoding":{"x":{"field":"x0","type":"quantitative","title":"b:a ratio","scale":{"domain":[0.45,3.0],"nice":false,"zero":false},"axis":{"values":[0.5,1,1.5,2,2.5,3],"format":".1f","labelOverlap":false,"tickCount":6}},"x2":{"field":"x1"},
"y":{"field":"n","type":"quantitative","title":"number of individuals","scale":{"domain":[0,47],"nice":false},"axis":{"values":[0,10,20,30,40],"tickSize":2,"labelPadding":0.5,"titlePadding":1,"labelOverlap":false}},"y2":{"datum":0},
"fill":{"field":"eye","type":"nominal","scale":{"range":["#6f6f6f"]},"legend":null}}},
{"data":{"values":[{"r":1}]},"mark":{"type":"rule","strokeDash":[3,2],"color":"#aaa","strokeWidth":0.8},"encoding":{"x":{"field":"r","type":"quantitative","title":"b:a ratio","scale":{"domain":[0.45,3.0],"nice":false,"zero":false},"axis":{"values":[0.5,1,1.5,2,2.5,3],"format":".1f","labelOverlap":false,"tickCount":6}}}}
]},
{"width":163,"height":124,"title":{"text":"I","dx":-22,"dy":10.5},
"layer":[
{"data":{"name":"hI"},"mark":{"type":"bar","stroke":"#999999","strokeWidth":0.6},
"encoding":{"x":{"field":"x0","type":"quantitative","title":"b:a ratio","scale":{"domain":[0.45,3.0],"nice":false,"zero":false},"axis":{"values":[0.5,1,1.5,2,2.5,3],"format":".1f","labelOverlap":false,"tickCount":6}},"x2":{"field":"x1"},
"y":{"field":"n","type":"quantitative","title":"number of individuals","scale":{"domain":[0,47],"nice":false},"axis":{"values":[0,10,20,30,40],"tickSize":2,"labelPadding":0.5,"titlePadding":1,"labelOverlap":false}},"y2":{"datum":0},
"fill":{"field":"eye","type":"nominal","scale":{"range":["#c4c4c4"]},"legend":null}}},
{"data":{"values":[{"r":1}]},"mark":{"type":"rule","strokeDash":[3,2],"color":"#aaa","strokeWidth":0.8},"encoding":{"x":{"field":"r","type":"quantitative","title":"b:a ratio","scale":{"domain":[0.45,3.0],"nice":false,"zero":false},"axis":{"values":[0.5,1,1.5,2,2.5,3],"format":".1f","labelOverlap":false,"tickCount":6}}}}
]}
]
}
